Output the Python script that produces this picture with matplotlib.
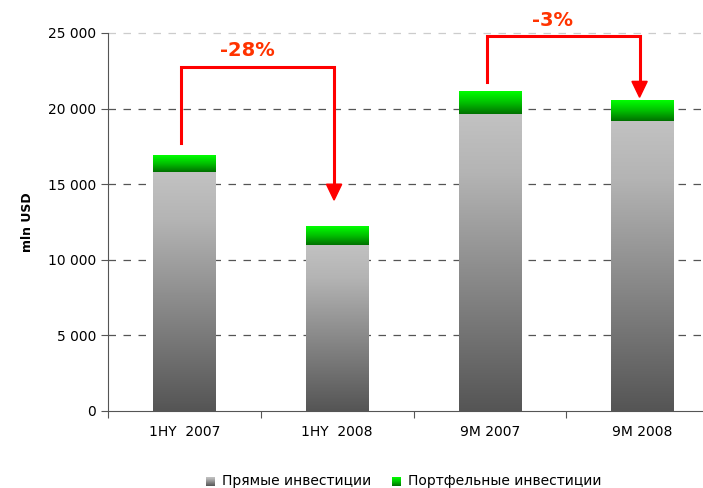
import numpy as np
import matplotlib
matplotlib.use("Agg")
import matplotlib.pyplot as plt
from matplotlib.colors import LinearSegmentedColormap
from matplotlib.ticker import FuncFormatter

# Data (mln USD)
categories = ["1HY  2007", "1HY  2008", "9M 2007", "9M 2008"]
direct = [15800, 11000, 19650, 19200]
portfolio = [1120, 1250, 1510, 1370]
labels = ["Прямые инвестиции", "Портфельные инвестиции"]
changes = ["-28%", "-3%"]

gray_cmap = LinearSegmentedColormap.from_list(
    "g", [(0, "#555555"), (0.5, "#909090"), (0.8, "#b4b4b4"), (1, "#c2c2c2")])
green_cmap = LinearSegmentedColormap.from_list("gr", ["#007000", "#00c000", "#00ff00"])

fig = plt.figure(figsize=(7.03, 4.88), dpi=100)
ax = fig.add_axes([108 / 703, 77 / 488, 611 / 703, 378 / 488])

grad = np.linspace(0, 1, 256).reshape(-1, 1)
width = 0.41
x = np.arange(len(categories))
for i in x:
    x0, x1 = i - width / 2, i + width / 2
    total = direct[i] + portfolio[i]
    ax.imshow(grad, extent=[x0, x1, 0, direct[i]], origin="lower",
              aspect="auto", cmap=gray_cmap, zorder=3)
    ax.imshow(grad, extent=[x0, x1, direct[i], total], origin="lower",
              aspect="auto", cmap=green_cmap, zorder=3)

ax.set_xlim(-0.5, 3.5)
ax.set_ylim(0, 25000)

# grid
for yv in [5000, 10000, 15000, 20000]:
    ax.axhline(yv, color="#555555", lw=0.9, ls=(0, (6, 6)), zorder=1)
ax.axhline(25000, color="#cccccc", lw=0.9, ls=(0, (6, 6)), zorder=1, clip_on=False)

# change arrows
def bracket(i, j, y_start, y_top, y_tip, text, y_text):
    ax.plot([i - 0.02, i - 0.02, j - 0.02, j - 0.02], [y_start, y_top, y_top, y_tip + 900],
            color="red", lw=2.2, zorder=4, clip_on=False, solid_joinstyle="miter")
    ax.fill([j - 0.02 - 0.05, j - 0.02 + 0.05, j - 0.02],
            [y_tip + 1050, y_tip + 1050, y_tip], color="red", zorder=4, clip_on=False)
    ax.text((i + j) / 2 - 0.09, y_text, text, color="#ff3300", fontsize=14,
            fontweight="bold", ha="center", va="center", clip_on=False)

bracket(0, 1, 17700, 22750, 13950, changes[0], 23850)
bracket(2, 3, 21750, 24800, 20750, changes[1], 25850)

ax.set_xticks(np.arange(-0.5, 4, 1), minor=False)
ax.set_xticklabels([])
ax.set_xticks(x, minor=True)
ax.set_xticklabels(categories, minor=True, fontsize=10)
ax.tick_params(axis="x", which="minor", length=0, pad=10)
ax.tick_params(axis="x", which="major", length=5, color="#555555")
ax.set_yticks(np.arange(0, 25001, 5000))
ax.yaxis.set_major_formatter(FuncFormatter(lambda v, p: f"{int(v):,}".replace(",", " ")))
ax.tick_params(axis="y", labelsize=10, length=5, color="#555555")
ax.set_ylabel("mln USD", fontsize=9, fontweight="bold", labelpad=10)

for s in ["top", "right"]:
    ax.spines[s].set_visible(False)
ax.spines["left"].set_color("#555555")
ax.spines["bottom"].set_color("#555555")

# legend with gradient squares
for k, (cm, lx, tx) in enumerate([(gray_cmap, 206, 222), (green_cmap, 392, 408)]):
    lax = fig.add_axes([lx / 703, (488 - 486) / 488, 9 / 703, 9 / 488])
    lax.imshow(grad, origin="lower", aspect="auto", cmap=cm)
    lax.axis("off")
    fig.text(tx / 703, (488 - 481) / 488, labels[k], fontsize=10, va="center", ha="left")

fig.savefig("out.png", dpi=100)
